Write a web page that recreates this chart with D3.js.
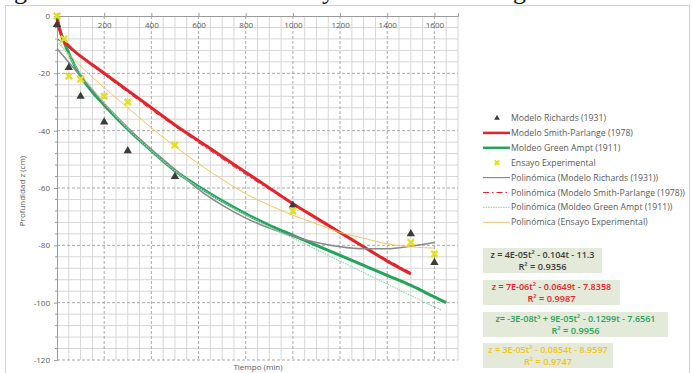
<!DOCTYPE html>
<html>
<head>
<meta charset="utf-8">
<script src="https://cdn.jsdelivr.net/npm/d3@7"></script>
<style>
  body { margin: 0; background: #fff; }
  svg text { font-family: "Open Sans", "Liberation Sans", sans-serif; }
</style>
</head>
<body>
<div id="chart"></div>
<script>
// measured series (time in min, depth z in cm)
const richardsT = [0, 50, 100, 200, 300, 500, 1000, 1500, 1600];
const richardsZ = [-3, -18, -28, -37, -47, -56, -66, -76, -86];
const ensayoT = [0, 30, 50, 100, 200, 300, 500, 1000, 1500, 1600];
const ensayoZ = [0, -8, -21, -22, -28, -30, -45, -68, -79, -83];
const smithT = [0, 10, 25, 50, 100, 150, 200, 300, 400, 500, 600, 700, 800, 900, 1000, 1100, 1200, 1300, 1400, 1500];
const smithZ = [-1, -4.5, -8, -10.5, -14, -17, -20, -26, -32, -38, -43.5, -49, -54.5, -60, -65.5, -70.5, -75.5, -80.5, -85.5, -90];
const greenT = [0, 10, 25, 50, 100, 150, 200, 300, 400, 500, 600, 700, 800, 900, 1000, 1100, 1200, 1300, 1400, 1500, 1600, 1650];
const greenZ = [0, -4, -8, -13, -21, -26.5, -31, -39.5, -47, -54, -59.5, -64.5, -69, -73, -76.5, -80, -83.5, -87, -90.5, -94, -98, -100];

// polynomial trendlines
const trendT = [0, 100, 200, 300, 400, 500, 600, 700, 800, 900, 1000, 1100, 1200, 1300, 1400, 1500, 1600];
const richardsFitZ = [-11.3, -21, -30.5, -39, -46.5, -53.5, -60.5, -66, -70.5, -74, -76.8, -79, -80.5, -81.2, -81.2, -80.3, -79];
const smithFitT = [0, 100, 200, 300, 400, 500, 600, 700, 800, 900, 1000, 1100, 1200, 1300, 1400, 1500];
const smithFitZ = [-7.8, -14.3, -20.5, -26.6, -32.7, -38.5, -44.2, -49.8, -55.3, -60.5, -65.7, -70.7, -75.6, -80.3, -85, -89.4];
const greenFitT = [0, 100, 200, 300, 400, 500, 600, 700, 800, 900, 1000, 1100, 1200, 1300, 1400, 1500, 1600, 1630];
const greenFitZ = [-7.7, -20, -30.3, -39.3, -47, -54, -59.7, -64.8, -69.3, -73.5, -77.5, -81.5, -85.5, -89.5, -93.5, -97.5, -101.5, -102.6];
const ensayoFitZ = [-9, -17.5, -25, -32, -39, -45.5, -51.5, -57, -62, -66, -69.5, -72.5, -75.5, -77.5, -79.5, -80.5, -81];

const xTicks = [0, 200, 400, 600, 800, 1000, 1200, 1400, 1600];
const yTicks = [0, -20, -40, -60, -80, -100, -120];

const legendNames = [
    "Modelo Richards (1931)",
    "Modelo Smith-Parlange  (1978)",
    "Moldeo Green Ampt (1911)",
    "Ensayo Experimental",
    "Polinómica (Modelo Richards (1931))",
    "Polinómica (Modelo Smith-Parlange  (1978))",
    "Polinómica (Moldeo Green Ampt (1911))",
    "Polinómica (Ensayo Experimental)"
];
const eqLine1 = [
    "z = 4E-05t² - 0.104t - 11.3",
    "z = 7E-06t² - 0.0649t - 7.8358",
    "z= -3E-08t³ + 9E-05t² - 0.1299t - 7.6561",
    "z = 3E-05t² - 0.0854t - 8.9597"
];
const eqLine2 = ["R² = 0.9356", "R² = 0.9987", "R² = 0.9956", "R² = 0.9747"];

const W = 692, H = 373;
const cRed = "#e5232b", cGreen = "#22a559", cGrey = "#8a8a8a", cYellow = "#e4e01c", cTri = "#3c3c3c";
const cGreenFit = "#8fdcb4", cYellowFit = "#f6c45c";

const svg = d3.select("#chart").append("svg")
    .attr("width", W)
    .attr("height", H);

// cropped caption above the chart (only descenders visible)
[["g", 14], ["y", 322], ["g", 513]].forEach(([ch, px]) => {
    svg.append("text")
        .attr("x", px).attr("y", -1)
        .style("font-family", "'Liberation Serif', serif")
        .style("font-size", "26px")
        .attr("fill", "#111")
        .text(ch);
});

// chart frame
svg.append("rect")
    .attr("x", 5.5).attr("y", 5.5)
    .attr("width", 684).attr("height", 380)
    .attr("fill", "#fff")
    .attr("stroke", "#d0d0d0");

const x = d3.scaleLinear().domain([0, 1700]).range([57, 458]);
const y = d3.scaleLinear().domain([-120, 0]).range([360, 16]);

// gridlines
const grid = svg.append("g");
grid.selectAll("line.vminor")
    .data(d3.range(0, 1701, 50).filter(v => v % 200 !== 0))
    .enter().append("line")
    .attr("x1", d => x(d)).attr("x2", d => x(d))
    .attr("y1", y(0)).attr("y2", y(-120))
    .attr("stroke", "#d6d6d6").attr("stroke-width", 1);
grid.selectAll("line.hminor")
    .data(d3.range(-120, 1, 4).filter(v => v % 20 !== 0))
    .enter().append("line")
    .attr("x1", x(0)).attr("x2", x(1700))
    .attr("y1", d => y(d)).attr("y2", d => y(d))
    .attr("stroke", "#d6d6d6").attr("stroke-width", 1);
grid.selectAll("line.vmajor")
    .data(xTicks.filter(v => v > 0))
    .enter().append("line")
    .attr("x1", d => x(d)).attr("x2", d => x(d))
    .attr("y1", y(0)).attr("y2", y(-120))
    .attr("stroke", "#a8a8a8").attr("stroke-dasharray", "3,2");
grid.selectAll("line.hmajor")
    .data(yTicks.filter(v => v < 0))
    .enter().append("line")
    .attr("x1", x(0)).attr("x2", x(1700))
    .attr("y1", d => y(d)).attr("y2", d => y(d))
    .attr("stroke", "#a8a8a8").attr("stroke-dasharray", "3,2");

// axes
const fmt = d => String(d);
const xAxis = svg.append("g")
    .attr("transform", "translate(0," + y(0) + ")")
    .call(d3.axisBottom(x).tickValues(xTicks).tickFormat(fmt).tickSize(-3).tickPadding(6));
const yAxis = svg.append("g")
    .attr("transform", "translate(" + x(0) + ",0)")
    .call(d3.axisLeft(y).tickValues(yTicks).tickFormat(fmt).tickSize(3).tickPadding(4));
[xAxis, yAxis].forEach(a => {
    a.select(".domain").attr("stroke", "#9a9a9a");
    a.selectAll(".tick line").attr("stroke", "#9a9a9a");
    a.selectAll(".tick text").attr("fill", "#595959").style("font-size", "8px");
});
// y minor ticks
svg.append("g").selectAll("line")
    .data(d3.range(-120, 1, 4).filter(v => v % 20 !== 0))
    .enter().append("line")
    .attr("x1", x(0) - 2).attr("x2", x(0))
    .attr("y1", d => y(d)).attr("y2", d => y(d))
    .attr("stroke", "#9a9a9a");

// axis titles
svg.append("text")
    .attr("transform", "translate(25,191) rotate(-90)")
    .attr("text-anchor", "middle")
    .attr("fill", "#595959")
    .style("font-size", "8px")
    .text("Profundidad z (cm)");
svg.append("text")
    .attr("x", 258).attr("y", 370)
    .attr("text-anchor", "middle")
    .attr("fill", "#595959")
    .style("font-size", "8px")
    .text("Tiempo (min)");

const line = d3.line().x(d => x(d[0])).y(d => y(d[1])).curve(d3.curveMonotoneX);
const zip = (a, b) => a.map((v, i) => [v, b[i]]);

// model curves
svg.append("path").datum(zip(greenT, greenZ))
    .attr("d", line).attr("fill", "none")
    .attr("stroke", cGreen).attr("stroke-width", 3);
svg.append("path").datum(zip(smithT, smithZ))
    .attr("d", line).attr("fill", "none")
    .attr("stroke", cRed).attr("stroke-width", 3);

// trendlines
svg.append("path").datum(zip(trendT, richardsFitZ))
    .attr("d", line).attr("fill", "none")
    .attr("stroke", cGrey).attr("stroke-width", 1.5);
svg.append("path").datum(zip(smithFitT, smithFitZ))
    .attr("d", line).attr("fill", "none")
    .attr("stroke", cRed).attr("stroke-width", 1)
    .attr("stroke-dasharray", "6,3,1.5,3");
svg.append("path").datum(zip(greenFitT, greenFitZ))
    .attr("d", line).attr("fill", "none")
    .attr("stroke", cGreenFit).attr("stroke-width", 1.2)
    .attr("stroke-dasharray", "1.5,1");
svg.append("path").datum(zip(trendT, ensayoFitZ))
    .attr("d", line).attr("fill", "none")
    .attr("stroke", cYellowFit).attr("stroke-width", 1);

// markers
const tri = d3.symbol().type(d3.symbolTriangle).size(30);
svg.append("g").selectAll("path")
    .data(zip(richardsT, richardsZ))
    .enter().append("path")
    .attr("d", tri)
    .attr("transform", d => "translate(" + x(d[0]) + "," + y(d[1]) + ")")
    .attr("fill", cTri);

function crossPath(s) {
    return "M" + (-s) + "," + (-s) + "L" + s + "," + s + "M" + (-s) + "," + s + "L" + s + "," + (-s);
}
svg.append("g").selectAll("path")
    .data(zip(ensayoT, ensayoZ))
    .enter().append("path")
    .attr("d", crossPath(3.2))
    .attr("transform", d => "translate(" + x(d[0]) + "," + y(d[1]) + ")")
    .attr("stroke", cYellow).attr("stroke-width", 2.4).attr("fill", "none");

// legend
const legX = 483, legY0 = 118, legStep = 14.9;
const legend = svg.append("g");
legendNames.forEach((name, i) => {
    const ly = legY0 + i * legStep;
    if (i === 0) {
        legend.append("path").attr("d", d3.symbol().type(d3.symbolTriangle).size(14))
            .attr("transform", "translate(497," + ly + ")").attr("fill", cTri);
    } else if (i === 3) {
        legend.append("path").attr("d", crossPath(2.3))
            .attr("transform", "translate(497," + ly + ")")
            .attr("stroke", cYellow).attr("stroke-width", 2).attr("fill", "none");
    } else {
        const st = [null, [cRed, 2.5, null], [cGreen, 2.5, null], null,
            [cGrey, 1.2, null], [cRed, 1.2, "6,3,1.5,3"], [cGreenFit, 1.2, "1.5,1"], [cYellowFit, 1, null]][i];
        legend.append("line")
            .attr("x1", legX).attr("x2", legX + 27)
            .attr("y1", ly).attr("y2", ly)
            .attr("stroke", st[0]).attr("stroke-width", st[1])
            .attr("stroke-dasharray", st[2]);
    }
    legend.append("text")
        .attr("x", 511).attr("y", ly + 3)
        .attr("fill", "#595959")
        .style("font-size", "8.7px")
        .text(name);
});

// equation labels
const eqColors = ["#3a3a3a", "#e5232b", "#22a559", "#f2c218"];
const eqBoxes = [[483, 248, 119], [483, 280, 137], [483, 312, 185], [483, 343, 130]];
eqLine1.forEach((t, i) => {
    const b = eqBoxes[i];
    svg.append("rect")
        .attr("x", b[0]).attr("y", b[1])
        .attr("width", b[2]).attr("height", 25)
        .attr("fill", "#e4ead9");
    svg.append("text")
        .attr("x", b[0] + b[2] / 2).attr("y", b[1] + 9.5)
        .attr("text-anchor", "middle")
        .attr("fill", eqColors[i])
        .style("font-size", "9px")
        .style("font-weight", "600")
        .text(t);
    svg.append("text")
        .attr("x", b[0] + b[2] / 2).attr("y", b[1] + 21.5)
        .attr("text-anchor", "middle")
        .attr("fill", eqColors[i])
        .style("font-size", "9.2px")
        .style("font-weight", "600")
        .text(eqLine2[i]);
});
</script>
</body>
</html>
